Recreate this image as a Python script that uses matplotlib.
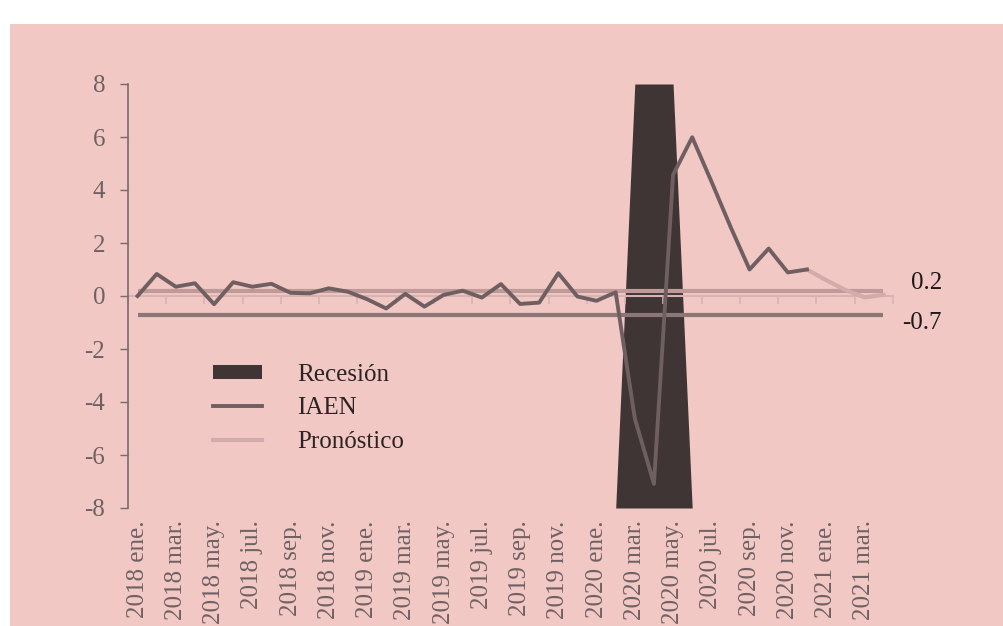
import matplotlib.pyplot as plt
import matplotlib.patches as patches
import numpy as np

plt.rcParams['font.family'] = ['Liberation Serif', 'DejaVu Serif']
plt.rcParams['axes.unicode_minus'] = False

years = [2018, 2019, 2020, 2021]
months = ['ene', 'feb', 'mar', 'abr', 'may', 'jun', 'jul', 'ago', 'sep', 'oct', 'nov', 'dic']
periods = [f"{y} {m}." for y in years for m in months][:40]  # 2018 ene. .. 2021 abr.

iaen = [0.0, 0.83, 0.35, 0.48, -0.31, 0.52, 0.35, 0.46, 0.12, 0.10, 0.29, 0.16,
        -0.12, -0.47, 0.08, -0.40, 0.04, 0.20, -0.06, 0.45, -0.30, -0.25, 0.86, -0.02,
        -0.18, 0.14, -4.62, -7.09, 4.57, 5.99, 4.33, 2.62, 1.0, 1.79, 0.89, 1.0]
pronostico = [1.0, 0.6, 0.23, -0.05, 0.04]  # 2020 dic. .. 2021 abr.
recesion_meses = ['2020 mar.', '2020 abr.', '2020 may.']
promedio_alto = 0.2
promedio_bajo = -0.7

n = len(periods)
x = np.arange(n)
iaen_s = np.full(n, np.nan)
iaen_s[:len(iaen)] = iaen
pron_s = np.full(n, np.nan)
pron_s[n - len(pronostico):] = pronostico
recesion = np.array([1.0 if p in recesion_meses else 0.0 for p in periods])

bg = '#f1c8c4'
fig = plt.figure(figsize=(10.04, 6.26), dpi=100, facecolor='white')
fig.patches.append(patches.Rectangle((10 / 1004, 0), 1, (626 - 24) / 626,
                                     transform=fig.transFigure, facecolor=bg,
                                     edgecolor='none', zorder=-10))

ax = fig.add_axes([128 / 1004, (626 - 508) / 626, 765 / 1004, 424 / 626])
ax2 = ax.twinx()
ax.set_zorder(ax2.get_zorder() + 1)
ax.patch.set_visible(False)
ax2.patch.set_visible(False)

# recession band on its own 0-1 scale
ax2.fill_between(x, recesion, 0, color='#3f3534', linewidth=0)
ax2.set_ylim(0, 1)
ax2.axis('off')

ax.set_xlim(-0.5, n - 0.5)
ax.set_ylim(-8, 8)

ax.plot(x, np.full(n, promedio_alto), color='#bf9a99', lw=3, solid_capstyle='butt')
ax.plot(x, np.full(n, promedio_bajo), color='#8c7778', lw=3, solid_capstyle='butt')
ax.plot(x, pron_s, color='#d3abaa', lw=3)
ax.plot(x, iaen_s, color='#705f61', lw=2.8)

ax.annotate(f"{promedio_alto}", xy=(n - 1, promedio_alto), xytext=(42, 5.5),
            textcoords='offset points', ha='right', va='center', fontsize=18,
            color='#1e1a1a', annotation_clip=False)
ax.annotate(f"{promedio_bajo}", xy=(n - 1, promedio_bajo), xytext=(42, -6),
            textcoords='offset points', ha='right', va='center', fontsize=18,
            color='#1e1a1a', annotation_clip=False)

# y axis
for s in ['top', 'right', 'bottom']:
    ax.spines[s].set_visible(False)
ax.spines['left'].set_color('#7b6a6b')
ax.spines['left'].set_linewidth(1.2)
ax.set_yticks(np.arange(-8, 9, 2))
ax.tick_params(axis='y', direction='out', length=5.5, width=1, color='#7b6a6b',
               labelsize=18, labelcolor='#6f6163', pad=11)

# x labels at the bottom
ax.set_xticks(x[::2])
ax.set_xticklabels(periods[::2], rotation=90, va='top')
ax.tick_params(axis='x', length=0, labelsize=18, labelcolor='#6f6163', pad=9)

# axis line through zero with ticks between categories
sec = ax.secondary_xaxis(0.5)
sec.set_xticks(np.arange(-0.5, n, 2))
sec.set_xticklabels([])
sec.tick_params(axis='x', which='both', direction='in', length=6, width=1.2,
                color='#d9b3b2', labeltop=False, labelbottom=False)
for s in sec.spines.values():
    s.set_color('#d9b3b2')
    s.set_linewidth(1.5)

handles = [patches.Patch(facecolor='#3f3534', edgecolor='none'),
           plt.Line2D([], [], color='#705f61', lw=2.8),
           plt.Line2D([], [], color='#d3abaa', lw=3)]
leg = ax.legend(handles, ['Recesión', 'IAEN', 'Pronóstico'], loc='upper left',
                bbox_to_anchor=((213 - 128) / 765, (508 - 364) / 424), frameon=False,
                fontsize=18, handlelength=1.96, handleheight=0.5, handletextpad=1.4,
                labelspacing=0.45, borderpad=0, borderaxespad=0)
for t in leg.get_texts():
    t.set_color('#2a2424')

fig.savefig('out.png', dpi=100, facecolor='white')
